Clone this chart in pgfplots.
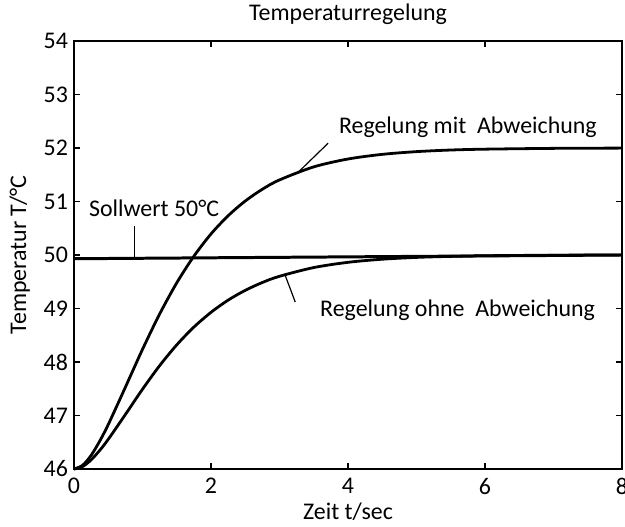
\documentclass[border=0pt]{standalone}
\usepackage{fontspec}
\setmainfont{Carlito}
\usepackage{pgfplots}
\pgfplotsset{compat=1.18}
\begin{document}
\begin{tikzpicture}
\begin{axis}[
  scale only axis, width=274bp, height=214bp,
  xmin=0, xmax=8, ymin=46, ymax=54,
  xtick={0,2,4,6,8}, ytick={46,47,...,54},
  tick align=inside, major tick length=3bp,
  every tick/.style={black, line width=0.6pt},
  axis line style={line width=0.9pt},
  /pgf/number format/assume math mode=true,
  tick label style={font=\fontsize{12}{14}\selectfont},
  xticklabel style={yshift=-1bp},
  yticklabel style={xshift=0.5bp},
  label style={font=\fontsize{12}{14}\selectfont},
  title style={font=\fontsize{12}{14}\selectfont, yshift=-1.5bp},
  title={Temperaturregelung},
  xlabel={Zeit t/sec}, ylabel={Temperatur T/°C},
  xlabel style={yshift=2.5bp}, ylabel style={yshift=0bp},
  clip=false,
]
% Regelung mit Abweichung
\addplot[black, line width=1.4pt, smooth] coordinates {
(0,46) (0.125,46.068) (0.25,46.255) (0.375,46.520) (0.5,46.830) (0.75,47.528) (1.0,48.236) (1.25,48.896)
(1.5,49.479) (1.75,49.977) (2.0,50.393) (2.25,50.733) (2.5,51.009)
(2.75,51.229) (3.0,51.403) (3.5,51.647) (4.0,51.794) (4.5,51.881)
(5.0,51.932) (5.5,51.962) (6.0,51.978) (7.0,51.993) (8.0,51.998)};
% Regelung ohne Abweichung
\addplot[black, line width=1.4pt, smooth] coordinates {
(0,46) (0.125,46.045) (0.25,46.170) (0.375,46.347) (0.5,46.554) (0.75,47.018) (1.0,47.491) (1.25,47.931)
(1.5,48.320) (1.75,48.652) (2.0,48.928) (2.25,49.156) (2.5,49.339)
(2.75,49.486) (3.0,49.602) (3.5,49.765) (4.0,49.863) (4.5,49.921)
(5.0,49.955) (5.5,49.974) (6.0,49.986) (7.0,49.996) (8.0,49.999)};
% Sollwert
\addplot[black, line width=1.5pt] coordinates {(0,49.93) (8,50.0)};
% leader lines
\addplot[black, line width=0.6pt] coordinates {(0.88,50.54) (0.88,49.94)};
\addplot[black, line width=0.6pt] coordinates {(3.71,52.09) (3.26,51.53)};
\addplot[black, line width=0.6pt] coordinates {(3.08,49.63) (3.23,49.12)};
\node[font=\fontsize{12}{14}\selectfont] at (axis cs:1.17,50.88) {Sollwert 50°C};
\node[font=\fontsize{12}{14}\selectfont] at (axis cs:5.75,52.39) {Regelung mit\ \ Abweichung};
\node[font=\fontsize{12}{14}\selectfont] at (axis cs:5.60,48.97) {Regelung ohne\ \ Abweichung};
\end{axis}
\pgfresetboundingbox
\path (current axis.south west) ++(-37bp,-29bp) coordinate (bl);
\path (current axis.north east) ++(1.5bp,20.5bp) coordinate (tr);
\path[use as bounding box] (bl) rectangle (tr);
\end{tikzpicture}
\end{document}
